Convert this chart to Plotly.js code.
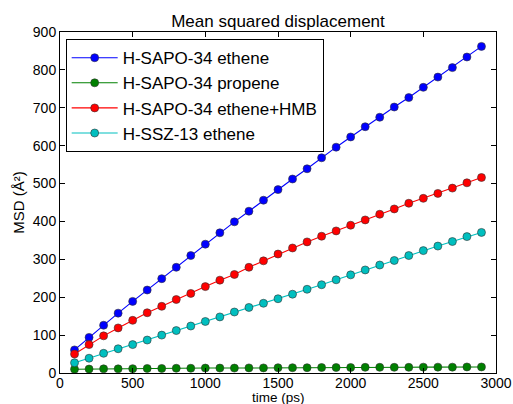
<!DOCTYPE html>
<html>
<head>
<meta charset="utf-8">
<script src="https://cdn.plot.ly/plotly-3.0.1.min.js"></script>
<style>html,body{margin:0;padding:0;background:#fff;}#chart{width:513px;height:404px;}</style>
</head>
<body>
<div id="chart"></div>
<script>
const timePs = [100,200,300,400,500,600,700,800,900,1000,1100,1200,1300,1400,1500,1600,1700,1800,1900,2000,2100,2200,2300,2400,2500,2600,2700,2800,2900];
const sapoEthene = [61,94,126,158,189,219,249,279,310,340,370,399,427,456,484,512,539,568,596,623,650,675,702,727,754,781,806,834,862];
const sapoPropene = [10,10.5,11,11,11.5,12,12,12.5,12.5,13,13,13,13.5,13.5,14,14,14,14.5,14.5,14.5,15,15,15,15,15.5,15.5,15.5,16,16];
const sapoEtheneHMB = [50,75,98,119,139,159,176,194,210,228,245,260,279,296,314,330,346,361,375,390,404,419,433,448,461,474,488,502,516];
const sszEthene = [27,39,52,64,75,87,100,112,124,136,148,161,173,184,196,208,221,233,246,259,272,285,297,310,323,335,347,360,371];

const seriesNames = ["H-SAPO-34 ethene","H-SAPO-34 propene","H-SAPO-34 ethene+HMB","H-SSZ-13 ethene"];
const seriesValues = [sapoEthene, sapoPropene, sapoEtheneHMB, sszEthene];
const seriesColors = ["#0000ff","#008000","#ff0000","#00bfbf"];
const xTitle = "time (ps)";

const traces = seriesNames.map((name,i)=>({
  x: timePs, y: seriesValues[i], name: name, type:'scatter', mode:'lines+markers',
  line:{color:seriesColors[i], width:1.1},
  marker:{color:seriesColors[i], size:8, line:{color:'#333', width:0.6}}
}));

const font = "Liberation Sans, Arial, sans-serif";
const axisCommon = {
  showgrid:false, zeroline:false, showline:true, linecolor:'#000', linewidth:1, mirror:'ticks',
  ticks:'inside', ticklen:5, tickcolor:'#000', tickwidth:1,
  tickfont:{family:font, size:14, color:'#000'}
};
const layout = {
  width:513, height:404,
  margin:{l:60, r:17, t:32, b:31},
  paper_bgcolor:'#fff', plot_bgcolor:'#fff',
  font:{family:font, color:'#000'},
  title:{text:'Mean squared displacement', font:{family:font, size:17, color:'#000'}, x:0.5, xanchor:'center', xref:'paper', y:1, yref:'paper', yanchor:'bottom', pad:{b:5}},
  xaxis:Object.assign({}, axisCommon, {range:[0,3000], dtick:500, tick0:0, ticklabelstandoff:-3}),
  yaxis:Object.assign({}, axisCommon, {range:[0,900], dtick:100, tick0:0, title:{text:'MSD (Å²)', font:{family:font, size:15, color:'#000'}, standoff:4}}),
  annotations:[{text:xTitle, xref:'paper', yref:'paper', x:0.5, y:0, xanchor:'center', yanchor:'middle', yshift:-24, showarrow:false, font:{family:font, size:13.5, color:'#000'}}],
  showlegend:true,
  legend:{x:0.013, y:0.979, xanchor:'left', yanchor:'top', bgcolor:'#fff', bordercolor:'#000', borderwidth:1,
    font:{family:font, size:17, color:'#000'}, itemwidth:46}
};
Plotly.newPlot('chart', traces, layout, {displayModeBar:false, staticPlot:true});
</script>
</body>
</html>
